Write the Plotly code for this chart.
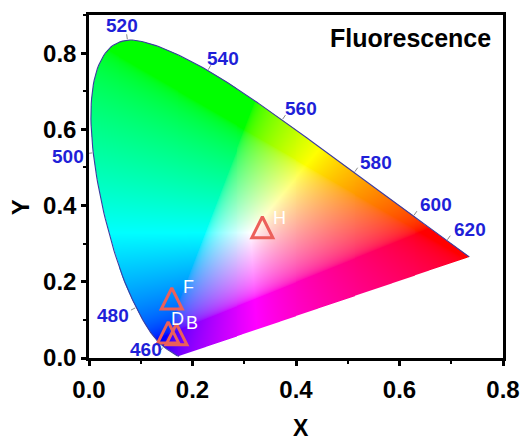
import numpy as np
import plotly.graph_objects as go

# CIE 1931 2-degree observer: spectral locus chromaticities, 380-700 nm in 5 nm steps
locus_nm = list(range(380, 705, 5))
locus_x = [0.1741, 0.1740, 0.1738, 0.1736, 0.1733, 0.1730, 0.1726, 0.1721, 0.1714, 0.1703,
           0.1689, 0.1669, 0.1644, 0.1611, 0.1566, 0.1510, 0.1440, 0.1355, 0.1241, 0.1096,
           0.0913, 0.0687, 0.0454, 0.0235, 0.0082, 0.0039, 0.0139, 0.0389, 0.0743, 0.1142,
           0.1547, 0.1929, 0.2296, 0.2658, 0.3016, 0.3373, 0.3731, 0.4087, 0.4441, 0.4788,
           0.5125, 0.5448, 0.5752, 0.6029, 0.6270, 0.6482, 0.6658, 0.6801, 0.6915, 0.7006,
           0.7079, 0.7140, 0.7190, 0.7230, 0.7260, 0.7283, 0.7300, 0.7311, 0.7320, 0.7327,
           0.7334, 0.7340, 0.7344, 0.7346, 0.7347]
locus_y = [0.0050, 0.0050, 0.0049, 0.0049, 0.0048, 0.0048, 0.0048, 0.0048, 0.0051, 0.0058,
           0.0069, 0.0086, 0.0109, 0.0138, 0.0177, 0.0227, 0.0297, 0.0399, 0.0578, 0.0868,
           0.1327, 0.2007, 0.2950, 0.4127, 0.5384, 0.6548, 0.7502, 0.8120, 0.8338, 0.8262,
           0.8059, 0.7816, 0.7543, 0.7243, 0.6923, 0.6589, 0.6245, 0.5896, 0.5547, 0.5202,
           0.4866, 0.4544, 0.4242, 0.3965, 0.3725, 0.3514, 0.3340, 0.3197, 0.3083, 0.2993,
           0.2920, 0.2859, 0.2809, 0.2770, 0.2740, 0.2717, 0.2700, 0.2689, 0.2680, 0.2673,
           0.2666, 0.2660, 0.2656, 0.2654, 0.2653]

# Wavelengths labelled along the horseshoe
marked_nm = [460, 480, 500, 520, 540, 560, 580, 600, 620]

# Fluorescence chromaticity coordinates of the samples
sample_names = ["H", "F", "D", "B"]
sample_x = [0.335, 0.160, 0.153, 0.169]
sample_y = [0.334, 0.147, 0.058, 0.053]

# Axis ticks
x_tick_vals = [0.0, 0.2, 0.4, 0.6, 0.8]
x_tick_text = ["0.0", "0.2", "0.4", "0.6", "0.8"]
y_tick_vals = [0.0, 0.2, 0.4, 0.6, 0.8]
y_tick_text = ["0.0", "0.2", "0.4", "0.6", "0.8"]

# ---------------------------------------------------------------- styling
FONT = "Arial, Liberation Sans, sans-serif"
W, H = 532, 440
MARGIN = dict(l=89, r=22, t=15, b=82)
X_RANGE = [0.0, 0.8]
Y_RANGE = [0.0, 0.9]
PX_X = (W - MARGIN["l"] - MARGIN["r"]) / (X_RANGE[1] - X_RANGE[0])
PX_Y = (H - MARGIN["t"] - MARGIN["b"]) / (Y_RANGE[1] - Y_RANGE[0])

WL_COLOR = "#1f1fd8"
MARK_COLOR = "#ec605a"
# pixel offsets of wavelength labels from their locus points
wl_label_dx = [-18, -23, -25, -5, 15, 19, 22, 23, 23]
wl_label_dy = [3, 8, 4, -15, -12, -12, -10, -12, -11]
# pixel offsets of sample names from their markers
name_dx = [17, 17, 9, 16]
name_dy = [-13, -15, -17, -15]


def smooth_curve(xs, ys, steps=8):
    """Catmull-Rom pass through the locus points (in screen proportions) for a smooth outline."""
    p = np.column_stack([np.asarray(xs) * PX_X, np.asarray(ys) * PX_Y])
    p = np.vstack([p[0], p, p[-1]])
    out = []
    t = np.linspace(0, 1, steps, endpoint=False)[:, None]
    for i in range(1, len(p) - 2):
        p0, p1, p2, p3 = p[i - 1], p[i], p[i + 1], p[i + 2]
        seg = 0.5 * ((2 * p1) + (-p0 + p2) * t + (2 * p0 - 5 * p1 + 4 * p2 - p3) * t ** 2
                     + (-p0 + 3 * p1 - 3 * p2 + p3) * t ** 3)
        out.append(seg)
    out.append(p[-2][None, :])
    out = np.vstack(out)
    return out[:, 0] / PX_X, out[:, 1] / PX_Y


# ---------------------------------------------------------------- colour fill
XYZ_TO_SRGB = np.array([[3.2406, -1.5372, -0.4986],
                        [-0.9689, 1.8758, 0.0415],
                        [0.0557, -0.2040, 1.0570]])


def chromaticity_rgb(cx, cy):
    cy = np.maximum(cy, 1e-4)
    xyz = np.stack([cx / cy, np.ones_like(cx), (1.0 - cx - cy) / cy], axis=-1)
    rgb = np.clip(xyz @ XYZ_TO_SRGB.T, 0.0, None)
    rgb /= np.maximum(rgb.max(axis=-1, keepdims=True), 1e-9)
    return np.where(rgb <= 0.0031308, 12.92 * rgb, 1.055 * rgb ** (1 / 2.4) - 0.055)


def inside_polygon(px, py, vx, vy):
    inside = np.zeros(px.shape, dtype=bool)
    for i in range(len(vx)):
        x1, y1, x2, y2 = vx[i - 1], vy[i - 1], vx[i], vy[i]
        if y1 == y2:
            continue
        crosses = (y1 > py) != (y2 > py)
        x_cross = x1 + (py - y1) * (x2 - x1) / (y2 - y1)
        inside ^= crosses & (px < x_cross)
    return inside


edge_x, edge_y = smooth_curve(locus_x, locus_y)

nx = int(round(PX_X * (X_RANGE[1] - X_RANGE[0])))
ny = int(round(PX_Y * (Y_RANGE[1] - Y_RANGE[0])))
dx = (X_RANGE[1] - X_RANGE[0]) / nx
dy = (Y_RANGE[1] - Y_RANGE[0]) / ny
gx, gy = np.meshgrid(X_RANGE[0] + (np.arange(nx) + 0.5) * dx,
                     Y_RANGE[0] + (np.arange(ny) + 0.5) * dy)

rgb = chromaticity_rgb(gx, gy)
coverage = np.zeros(gx.shape)
sub = [-1 / 3, 0.0, 1 / 3]
for sx in sub:
    for sy in sub:
        coverage += inside_polygon(gx + sx * dx, gy + sy * dy, edge_x, edge_y)
coverage /= len(sub) ** 2

rgba = np.dstack([rgb * 255, coverage * 255]).round().astype(np.uint8)

fig = go.Figure()
fig.add_trace(go.Image(z=rgba, colormodel="rgba256", x0=X_RANGE[0] + dx / 2, dx=dx,
                       y0=Y_RANGE[0] + dy / 2, dy=dy, hoverinfo="skip"))

# spectral locus outline
fig.add_trace(go.Scatter(x=edge_x, y=edge_y, mode="lines",
                         line=dict(color="#3c3ca0", width=1.1), hoverinfo="skip"))

# short outward ticks at the labelled wavelengths
tick_x, tick_y = [], []
for nm in marked_nm:
    k = locus_nm.index(nm)
    tx = (locus_x[k + 1] - locus_x[k - 1]) * PX_X
    ty = (locus_y[k + 1] - locus_y[k - 1]) * PX_Y
    norm = np.hypot(tx, ty)
    ox, oy = -ty / norm, tx / norm
    tick_x += [locus_x[k] + ox * 1 / PX_X, locus_x[k] + ox * 6 / PX_X, None]
    tick_y += [locus_y[k] + oy * 1 / PX_Y, locus_y[k] + oy * 6 / PX_Y, None]
fig.add_trace(go.Scatter(x=tick_x, y=tick_y, mode="lines",
                         line=dict(color="#8a8a8a", width=1), hoverinfo="skip"))

# sample markers: hollow upward triangles centred on each point
MARK_SIZE = 21
fig.add_trace(go.Scatter(
    x=sample_x, y=sample_y, mode="markers",
    marker=dict(symbol="arrow-down-open", angle=180, standoff=MARK_SIZE * 2 / 3,
                size=MARK_SIZE, color=MARK_COLOR,
                line=dict(color=MARK_COLOR, width=3)),
    hoverinfo="skip"))

annotations = []
for nm, ddx, ddy in zip(marked_nm, wl_label_dx, wl_label_dy):
    k = locus_nm.index(nm)
    annotations.append(dict(x=locus_x[k], y=locus_y[k], xref="x", yref="y", text=str(nm),
                            showarrow=False, xshift=ddx, yshift=-ddy,
                            font=dict(family=FONT, size=19, color=WL_COLOR, weight="bold")))
for name, px, py, ddx, ddy in zip(sample_names, sample_x, sample_y, name_dx, name_dy):
    annotations.append(dict(x=px, y=py, xref="x", yref="y", text=name, showarrow=False,
                            xshift=ddx, yshift=-ddy,
                            font=dict(family=FONT, size=18, color="white")))
annotations.append(dict(x=0.975, y=0.933, xref="paper", yref="paper", text="Fluorescence",
                        showarrow=False, xanchor="right", yanchor="middle",
                        font=dict(family=FONT, size=25, color="black", weight="bold")))
annotations.append(dict(x=0.513, y=-0.204, xref="paper", yref="paper", text="X",
                        showarrow=False, xanchor="center", yanchor="middle",
                        font=dict(family=FONT, size=23, color="black", weight="bold")))
annotations.append(dict(x=-0.166, y=0.44, xref="paper", yref="paper", text="Y",
                        showarrow=False, xanchor="center", yanchor="middle", textangle=-90,
                        font=dict(family=FONT, size=24, color="black", weight="bold")))

axis_common = dict(ticks="outside", ticklen=5, tickwidth=2.5, tickcolor="black",
                   minor=dict(dtick=0.1, tick0=0, ticks="outside", ticklen=3,
                              tickwidth=2, tickcolor="black"),
                   showline=True, linewidth=2.5, linecolor="black", mirror=True,
                   showgrid=False, zeroline=False,
                   tickfont=dict(family=FONT, size=24, color="black", weight="bold"))

fig.update_layout(
    width=W, height=H, margin=MARGIN,
    paper_bgcolor="white", plot_bgcolor="white", showlegend=False,
    font=dict(family=FONT, color="black"),
    xaxis=dict(range=X_RANGE, tickmode="array", tickvals=x_tick_vals, ticktext=x_tick_text,
               ticklabelstandoff=3, **axis_common),
    yaxis=dict(range=Y_RANGE, tickmode="array", tickvals=y_tick_vals, ticktext=y_tick_text,
               scaleanchor=False, **axis_common),
    annotations=annotations,
)

fig.write_html("out.html")
